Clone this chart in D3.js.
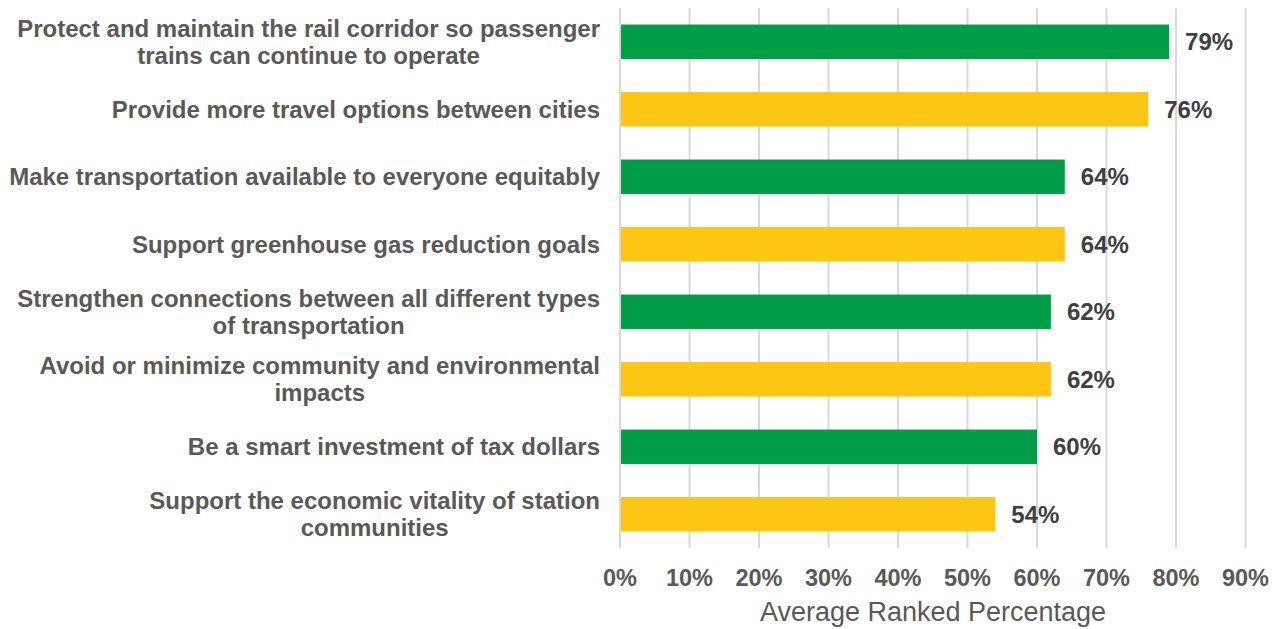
<!DOCTYPE html>
<html><head><meta charset="utf-8">
<script src="https://cdn.jsdelivr.net/npm/d3@7"></script>
<style>body{margin:0;background:#fff}svg{display:block}</style>
</head><body>
<svg id="c" width="1272" height="629"></svg>
<script>
const categories = [
  ["Protect and maintain the rail corridor so passenger", "trains can continue to operate"],
  ["Provide more travel options between cities"],
  ["Make transportation available to everyone equitably"],
  ["Support greenhouse gas reduction goals"],
  ["Strengthen connections between all different types", "of transportation"],
  ["Avoid or minimize community and environmental", "impacts"],
  ["Be a smart investment of tax dollars"],
  ["Support the economic vitality of station", "communities"]
];
const values = [0.79, 0.76, 0.64, 0.64, 0.62, 0.62, 0.60, 0.54];
const barColors = ["#009E49", "#FDC613"];
const tickValues = [0, 0.1, 0.2, 0.3, 0.4, 0.5, 0.6, 0.7, 0.8, 0.9];
const axisTitle = "Average Ranked Percentage";

const svg = d3.select("#c");
const font = "'Liberation Sans', Arial, sans-serif";
const x = d3.scaleLinear().domain([0, 0.9]).range([620, 1245.5]);
const y = d3.scaleBand().domain(d3.range(categories.length)).range([8, 548]).paddingInner(0.49).paddingOuter(0.245);

// gridlines
svg.append("g").selectAll("line").data(tickValues).join("line")
  .attr("x1", d => x(d)).attr("x2", d => x(d))
  .attr("y1", 8).attr("y2", 548)
  .attr("stroke", "#d9d9d9").attr("stroke-width", 2);

// bars
svg.append("g").selectAll("rect").data(values).join("rect")
  .attr("x", x(0) + 1).attr("y", (d, i) => y(i))
  .attr("width", d => x(d) - x(0) - 1).attr("height", y.bandwidth())
  .attr("fill", (d, i) => barColors[i % 2]);

// value labels
svg.append("g").selectAll("text").data(values).join("text")
  .attr("x", d => x(d) + 16).attr("y", (d, i) => y(i) + y.bandwidth() / 2)
  .attr("dy", "0.36em")
  .attr("font-family", font).attr("font-weight", "bold").attr("font-size", 24)
  .attr("fill", "#404040")
  .text(d => d3.format(".0%")(d));

// category labels
const cg = svg.append("g");
categories.forEach((lines, i) => {
  const cy = y(i) + y.bandwidth() / 2;
  const lh = 27;
  const t = cg.append("text")
    .attr("font-family", font).attr("font-weight", "bold").attr("font-size", 24)
    .attr("fill", "#595959").attr("text-anchor", "middle");
  const startY = cy - (lines.length - 1) * lh / 2;
  lines.forEach((ln, j) => {
    t.append("tspan").attr("y", startY + j * lh).attr("dy", "0.35em").text(ln);
  });
  const spans = t.selectAll("tspan").nodes();
  const maxW = d3.max(spans, s => s.getComputedTextLength());
  spans.forEach(s => d3.select(s).attr("x", 600 - maxW / 2));
});

// tick labels
svg.append("g").selectAll("text").data(tickValues).join("text")
  .attr("x", d => x(d)).attr("y", 578).attr("dy", "0.35em")
  .attr("text-anchor", "middle")
  .attr("font-family", font).attr("font-weight", "bold").attr("font-size", 23.5)
  .attr("fill", "#595959")
  .text(d => d3.format(".0%")(d));

// axis title
svg.append("text")
  .attr("x", 933).attr("y", 612).attr("dy", "0.35em").attr("text-anchor", "middle")
  .attr("font-family", font).attr("font-size", 27).attr("fill", "#595959")
  .text(axisTitle);
</script>
</body></html>
